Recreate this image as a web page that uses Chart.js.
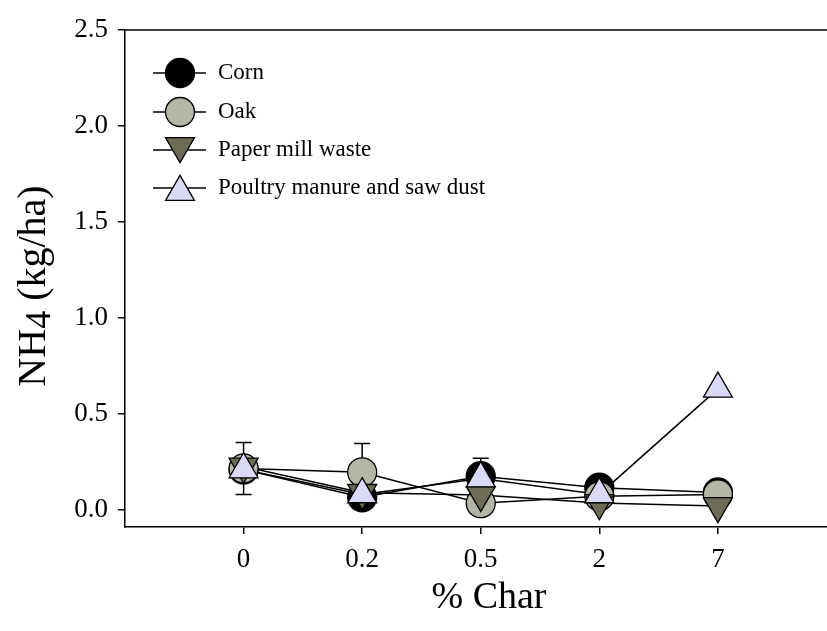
<!DOCTYPE html>
<html>
<head>
<meta charset="utf-8">
<script src="https://cdn.jsdelivr.net/npm/chart.js@4.4.1/dist/chart.umd.min.js"></script>
<style>
  html, body { margin: 0; padding: 0; background: #fff; overflow: hidden; }
  #wrap { width: 827px; height: 631px; position: relative; overflow: hidden; }
  canvas { display: block; }
</style>
</head>
<body>
<div id="wrap"><canvas id="nh4Chart" width="827" height="631"></canvas></div>
<script>
// % Char categories (plotted at even spacing)
const xLabels = ['0', '0.2', '0.5', '2', '7'];
const yTicks = [0, 0.5, 1.0, 1.5, 2.0, 2.5];
const seriesNames = ['Corn', 'Oak', 'Paper mill waste', 'Poultry manure and saw dust'];

// NH4 (kg/ha)
const corn = [0.21, 0.065, 0.175, 0.115, 0.09];
const oak = [0.215, 0.195, 0.034, 0.07, 0.08];
const paper = [0.225, 0.088, 0.077, 0.035, 0.02];
const poultry = [0.21, 0.08, 0.163, 0.08, 0.63];

// visible error bars (+/-)
const cornErr = [0, 0, 0.093, 0, 0];
const oakErr = [0.135, 0.15, 0, 0, 0];
const paperErr = [0, 0, 0, 0, 0];
const poultryErr = [0, 0, 0, 0, 0];

const SERIF = "'Liberation Serif', 'Times New Roman', serif";

const styles = [
    { fill: '#000000', pointStyle: 'circle', radius: 14.5, rotation: 0 },
    { fill: '#b6b6a8', pointStyle: 'circle', radius: 14.5, rotation: 0 },
    { fill: '#6b6b56', pointStyle: 'triangle', radius: 16.7, rotation: 180 },
    { fill: '#dadaf8', pointStyle: 'triangle', radius: 16.7, rotation: 0 }
];
const values = [corn, oak, paper, poultry];
const errors = [cornErr, oakErr, paperErr, poultryErr];

function toPoints(arr) {
    return arr.map(function(v, i) { return { x: i, y: v }; });
}

const datasets = [];
// connecting lines first (underneath all markers)
values.forEach(function(arr, k) {
    datasets.push({
        label: seriesNames[k] + ' line',
        data: toPoints(arr),
        borderColor: '#000',
        borderWidth: 1.5,
        pointRadius: 0,
        showLine: true,
        fill: false,
        tension: 0,
        order: 10 + k,
        clip: false
    });
});
// markers, poultry on top
values.forEach(function(arr, k) {
    datasets.push({
        label: seriesNames[k],
        data: toPoints(arr),
        showLine: false,
        pointStyle: styles[k].pointStyle,
        pointRotation: styles[k].rotation,
        pointRadius: styles[k].radius,
        pointBackgroundColor: styles[k].fill,
        pointBorderColor: '#000',
        pointBorderWidth: 1.3,
        order: 4 - k,
        clip: false
    });
});

const errorBars = {
    id: 'errorBars',
    beforeDatasetsDraw: function(chart) {
        const ctx = chart.ctx;
        const xs = chart.scales.x, ys = chart.scales.y;
        ctx.save();
        ctx.strokeStyle = '#000';
        ctx.lineWidth = 1.5;
        values.forEach(function(arr, k) {
            arr.forEach(function(v, i) {
                const e = errors[k][i];
                if (!e) return;
                const x = xs.getPixelForValue(i);
                const yTop = ys.getPixelForValue(v + e);
                const yBot = ys.getPixelForValue(v - e);
                ctx.beginPath();
                ctx.moveTo(x, yTop); ctx.lineTo(x, yBot);
                ctx.moveTo(x - 8, yTop); ctx.lineTo(x + 8, yTop);
                ctx.moveTo(x - 8, yBot); ctx.lineTo(x + 8, yBot);
                ctx.stroke();
            });
        });
        ctx.restore();
    }
};

const frameAndText = {
    id: 'frameAndText',
    afterDraw: function(chart) {
        const ctx = chart.ctx;
        const area = chart.chartArea;
        ctx.save();
        // top frame line
        ctx.strokeStyle = '#000';
        ctx.lineWidth = 1.5;
        ctx.beginPath();
        ctx.moveTo(area.left, area.top);
        ctx.lineTo(area.right, area.top);
        ctx.stroke();

        // legend inside the plot
        ctx.font = '23px ' + SERIF;
        ctx.textBaseline = 'middle';
        ctx.textAlign = 'left';
        const rowY = [73, 112, 150, 188];
        seriesNames.forEach(function(name, k) {
            const y = rowY[k];
            ctx.strokeStyle = '#000';
            ctx.lineWidth = 1.5;
            ctx.beginPath();
            ctx.moveTo(153, y); ctx.lineTo(206, y);
            ctx.stroke();
            ctx.fillStyle = styles[k].fill;
            ctx.lineWidth = 1.3;
            Chart.helpers.drawPoint(ctx, {
                pointStyle: styles[k].pointStyle,
                radius: styles[k].radius,
                rotation: styles[k].rotation,
                borderWidth: 1.3
            }, 180, styles[k].pointStyle === 'triangle' ? y + (styles[k].rotation ? -4 : 4) : y);
            ctx.fillStyle = '#000';
            ctx.fillText(name, 218, y);
        });

        // axis titles
        ctx.fillStyle = '#000';
        ctx.font = '38px ' + SERIF;
        ctx.textAlign = 'center';
        ctx.textBaseline = 'middle';
        ctx.fillText('% Char', 489, 598);

        ctx.translate(32, 286);
        ctx.rotate(-Math.PI / 2);
        const big = '40px ' + SERIF;
        const small = '36px ' + SERIF;
        ctx.font = big;
        const w1 = ctx.measureText('NH').width;
        const w3 = ctx.measureText(' (kg/ha)').width;
        ctx.font = small;
        const w2 = ctx.measureText('4').width;
        let x0 = -(w1 + w2 + w3) / 2;
        ctx.textAlign = 'left';
        ctx.textBaseline = 'alphabetic';
        ctx.font = big;
        ctx.fillText('NH', x0, 13);
        ctx.font = small;
        ctx.fillText('4', x0 + w1, 18);
        ctx.font = big;
        ctx.fillText(' (kg/ha)', x0 + w1 + w2, 13);
        ctx.restore();
    }
};

const ctx = document.getElementById('nh4Chart').getContext('2d');
const nh4Chart = new Chart(ctx, {
    type: 'scatter',
    data: { datasets: datasets },
    options: {
        responsive: false,
        maintainAspectRatio: false,
        animation: false,
        events: [],
        layout: { autoPadding: false, padding: { left: 0, right: 0, top: 30, bottom: 0 } },
        scales: {
            x: {
                type: 'linear',
                min: -1,
                max: 4.92,
                afterBuildTicks: function(scale) {
                    scale.ticks = xLabels.map(function(_, i) { return { value: i }; });
                },
                afterFit: function(scale) { scale.height = 104; },
                ticks: {
                    callback: function(value) { return xLabels[value]; },
                    color: '#000',
                    font: { family: SERIF, size: 27 },
                    padding: 10,
                    maxRotation: 0
                },
                grid: { drawOnChartArea: false, drawTicks: true, tickLength: 7, color: '#000', lineWidth: 1.5 },
                border: { display: true, color: '#000', width: 1.5 }
            },
            y: {
                type: 'linear',
                min: -0.09,
                max: 2.5,
                afterBuildTicks: function(scale) {
                    scale.ticks = yTicks.map(function(v) { return { value: v }; });
                },
                afterFit: function(scale) { scale.width = 125; },
                ticks: {
                    callback: function(value) { return value.toFixed(1); },
                    color: '#000',
                    font: { family: SERIF, size: 27 },
                    padding: 10
                },
                grid: { drawOnChartArea: false, drawTicks: true, tickLength: 7, color: '#000', lineWidth: 1.5 },
                border: { display: true, color: '#000', width: 1.5 }
            }
        },
        plugins: {
            legend: { display: false },
            tooltip: { enabled: false }
        }
    },
    plugins: [errorBars, frameAndText]
});
</script>
</body>
</html>
